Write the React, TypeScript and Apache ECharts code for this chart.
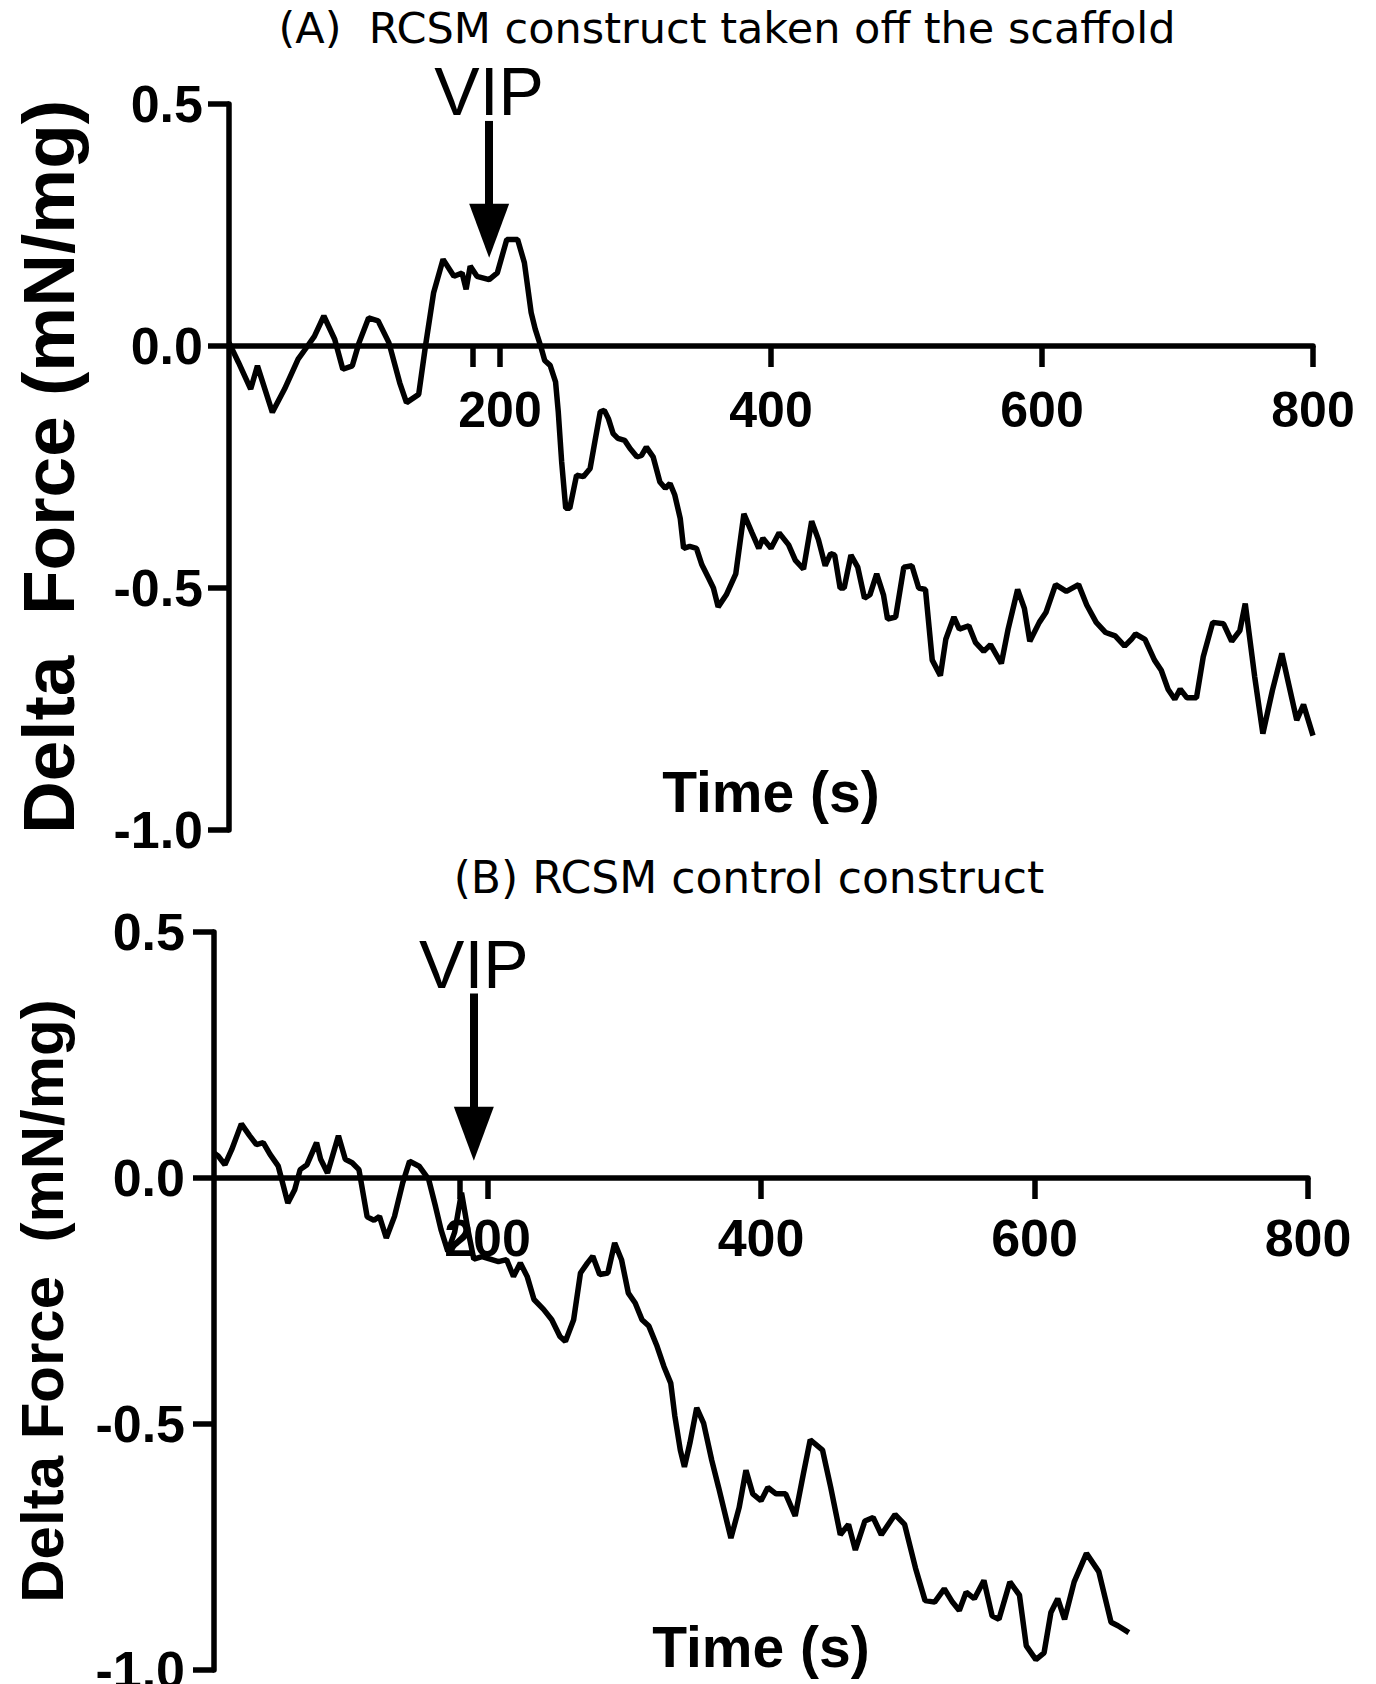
import React, { useEffect, useRef } from "react";
import * as echarts from "echarts";

// Panel A: RCSM construct taken off the scaffold
const timeA = [0,7,16,21,32,41,51,58,63,70,78,84,91,96,103,110,118,126,131,140,145,151,158,166,172,175,178,183,192,198,205,213,218,223,226,230,233,237,241,243,245.5,248.5,251.5,256.5,261.5,266.5,270,274,277,280,283.5,287,292,296,301,304.5,308,313,318,322,325.5,329,333,335.5,340,345,349,354,357.5,361,367,374,380,386,391,394,400,406,413,418,424,430,435,440,444,447,451,454,459,464,469,473,478,483,486,492,498,504,509,514,519,525,529,535,539,546,551,557,562,570,575,582,587,591,598,603,610,618,627,633,640,647,654,661,666,669,676,683,688,693,698,702,707,714,719,726,734,740,746,750,757,763,770,777,782,788,793,800];
const forceA = [0.007,-0.034,-0.089,-0.041,-0.137,-0.089,-0.027,0,0.02,0.062,0.014,-0.048,-0.041,0.007,0.058,0.052,0.007,-0.076,-0.117,-0.1,0,0.11,0.179,0.144,0.151,0.117,0.165,0.144,0.137,0.151,0.22,0.22,0.172,0.069,0.035,0.0,-0.03,-0.04,-0.074,-0.136,-0.239,-0.335,-0.335,-0.267,-0.27,-0.253,-0.198,-0.136,-0.133,-0.15,-0.181,-0.191,-0.195,-0.212,-0.229,-0.226,-0.209,-0.229,-0.281,-0.294,-0.284,-0.308,-0.356,-0.418,-0.414,-0.418,-0.452,-0.48,-0.5,-0.539,-0.514,-0.471,-0.347,-0.386,-0.418,-0.397,-0.418,-0.386,-0.411,-0.443,-0.461,-0.362,-0.4,-0.454,-0.429,-0.432,-0.5,-0.5,-0.432,-0.457,-0.521,-0.514,-0.471,-0.514,-0.564,-0.56,-0.457,-0.454,-0.5,-0.503,-0.649,-0.681,-0.606,-0.56,-0.585,-0.578,-0.613,-0.631,-0.617,-0.656,-0.585,-0.503,-0.542,-0.61,-0.571,-0.55,-0.493,-0.507,-0.493,-0.535,-0.571,-0.592,-0.599,-0.62,-0.606,-0.595,-0.606,-0.649,-0.67,-0.709,-0.73,-0.709,-0.727,-0.727,-0.642,-0.571,-0.574,-0.61,-0.588,-0.532,-0.684,-0.801,-0.712,-0.635,-0.698,-0.773,-0.741,-0.805];

// Panel B: RCSM control construct
const timeB = [0,3,8,13,20,26,31,36,41,47,54,59,63,68,75,78,83,91,96,101,106,112,117,121,126,132,138,143,150,157,162,166,171,176,181,186,190,196,202,208,214,219,224,229,234,241,247,253,257,263,268,273,277,282,288,293,298,303,308,313,318,324,329,334,337,341,344,348,353,358,364,369,378,384,389,394,400,405,411,418,425,431,436,445,451,458,464,469,476,482,488,498,505,513,520,527,534,540,545,550,556,563,569,574,582,589,594,601,607,612,617,622,629,638,647,656,661,669];
const forceB = [0.051,0.045,0.027,0.058,0.11,0.086,0.068,0.072,0.048,0.024,-0.051,-0.024,0.017,0.027,0.072,0.038,0.01,0.086,0.038,0.031,0.017,-0.079,-0.086,-0.078,-0.122,-0.078,-0.01,0.034,0.024,-0.003,-0.058,-0.105,-0.149,-0.11,-0.03,-0.11,-0.165,-0.16,-0.165,-0.17,-0.166,-0.2,-0.173,-0.2,-0.247,-0.267,-0.288,-0.322,-0.332,-0.288,-0.193,-0.173,-0.159,-0.196,-0.193,-0.132,-0.166,-0.234,-0.254,-0.288,-0.301,-0.342,-0.383,-0.417,-0.484,-0.553,-0.587,-0.539,-0.467,-0.498,-0.574,-0.629,-0.732,-0.67,-0.594,-0.642,-0.656,-0.629,-0.642,-0.642,-0.687,-0.601,-0.532,-0.553,-0.629,-0.725,-0.704,-0.756,-0.697,-0.69,-0.725,-0.684,-0.704,-0.793,-0.859,-0.862,-0.835,-0.862,-0.879,-0.842,-0.855,-0.818,-0.89,-0.897,-0.821,-0.848,-0.951,-0.979,-0.965,-0.883,-0.855,-0.897,-0.821,-0.763,-0.8,-0.903,-0.91,-0.924];

const xLabelValues = [200, 400, 600, 800];
const xTickValues = [180, 200, 400, 600, 800];
const yMin = -1;
const yMax = 0.5;
const titles = ["(A)  RCSM construct taken off the scaffold", "(B) RCSM control construct"];
const yNames = ["Delta  Force (mN/mg)", "Delta Force  (mN/mg)"];
const xName = "Time (s)";
const vipLabel = "VIP";
// VIP arrow: time, start value, end value (per panel)
const vipA = [192, 0.465, 0.238];
const vipB = [190, 0.375, 0.09];

const FONT = "'Liberation Sans', Arial, Helvetica, sans-serif";
const LW = 5.5;

const gridA = { left: 229, top: 104, width: 1084, height: 726 };
const gridB = { left: 214, top: 932, width: 1094, height: 738 };

// x axis drawn at y = 0: offset from the grid bottom by the share of the range below zero
function zeroOffset(gridHeight: number) {
  return -gridHeight * ((0 - yMin) / (yMax - yMin));
}

function makeXAxis(gridIndex: number, gridHeight: number, nameGap: number, labelSize: number, margin: number) {
  return {
    type: "value",
    gridIndex,
    position: "bottom",
    offset: zeroOffset(gridHeight),
    min: 0,
    max: 800,
    interval: 200,
    name: xName,
    nameLocation: "middle",
    nameGap,
    nameTextStyle: { fontSize: 57, fontWeight: "bold", color: "#000", fontFamily: FONT },
    axisLine: { show: true, onZero: false, lineStyle: { color: "#000", width: LW } },
    axisTick: { show: true, length: 21, customValues: xTickValues, lineStyle: { color: "#000", width: LW } },
    axisLabel: {
      show: true,
      customValues: xLabelValues,
      margin,
      fontSize: labelSize,
      fontWeight: "bold",
      color: "#000",
      fontFamily: FONT,
    },
    splitLine: { show: false },
  };
}

function makeYAxis(gridIndex: number, name: string, nameSize: number, nameGap: number, margin: number) {
  return {
    type: "value",
    gridIndex,
    min: yMin,
    max: yMax,
    interval: 0.5,
    name,
    nameLocation: "middle",
    nameGap,
    nameTextStyle: { fontSize: nameSize, fontWeight: "bold", color: "#000", fontFamily: FONT },
    axisLine: { show: true, onZero: false, lineStyle: { color: "#000", width: LW } },
    axisTick: { show: true, length: 21, lineStyle: { color: "#000", width: LW } },
    axisLabel: {
      show: true,
      margin,
      fontSize: 52,
      fontWeight: "bold",
      color: "#000",
      fontFamily: FONT,
      formatter: (v: number) => v.toFixed(1),
    },
    splitLine: { show: false },
  };
}

function vipMarkLine(v: number[]) {
  return {
    silent: true,
    symbol: ["none", "triangle"],
    symbolSize: [40, 54],
    lineStyle: { color: "#000", width: 8, type: "solid" },
    label: {
      show: true,
      position: "start",
      distance: 0,
      formatter: vipLabel,
      fontSize: 68,
      lineHeight: 60,
      padding: 0,
      color: "#000",
      fontFamily: FONT,
    },
    emphasis: { disabled: true },
    data: [[{ coord: [v[0], v[1]] }, { coord: [v[0], v[2]] }]],
  };
}

export default function App() {
  const ref = useRef<HTMLDivElement>(null);
  useEffect(() => {
    if (!ref.current) return;
    const chart = echarts.init(ref.current, null, { renderer: "svg" });
    const option = {
      animation: false,
      backgroundColor: "#ffffff",
      title: [
        {
          text: titles[0],
          left: 727,
          top: 6,
          padding: 0,
          textAlign: "center",
          textStyle: { fontSize: 43, lineHeight: 44, fontWeight: "normal", color: "#000", fontFamily: "'DejaVu Sans', sans-serif" },
        },
        {
          text: titles[1],
          left: 749,
          top: 855,
          padding: 0,
          textAlign: "center",
          textStyle: { fontSize: 44, lineHeight: 45, fontWeight: "normal", color: "#000", fontFamily: "'DejaVu Sans', sans-serif" },
        },
      ],
      grid: [
        { ...gridA, containLabel: false, outerBoundsMode: "none" },
        { ...gridB, containLabel: false, outerBoundsMode: "none" },
      ],
      xAxis: [makeXAxis(0, gridA.height, 417, 50, 39), makeXAxis(1, gridB.height, 440, 52, 34)],
      yAxis: [makeYAxis(0, yNames[0], 73, 144, 26), makeYAxis(1, yNames[1], 60, 142, 29)],
      series: [
        {
          type: "line",
          xAxisIndex: 0,
          yAxisIndex: 0,
          showSymbol: false,
          symbol: "none",
          lineStyle: { color: "#000", width: LW },
          data: timeA.map((t, i) => [t, forceA[i]]),
          markLine: vipMarkLine(vipA),
        },
        {
          type: "line",
          xAxisIndex: 1,
          yAxisIndex: 1,
          showSymbol: false,
          symbol: "none",
          lineStyle: { color: "#000", width: LW },
          data: timeB.map((t, i) => [t, forceB[i]]),
          markLine: vipMarkLine(vipB),
        },
      ],
    };
    chart.setOption(option as any);
    return () => chart.dispose();
  }, []);
  return (
    <div
      ref={ref}
      style={{ position: "absolute", left: 0, top: 0, width: 1376, height: 1684, background: "#fff" }}
    />
  );
}
